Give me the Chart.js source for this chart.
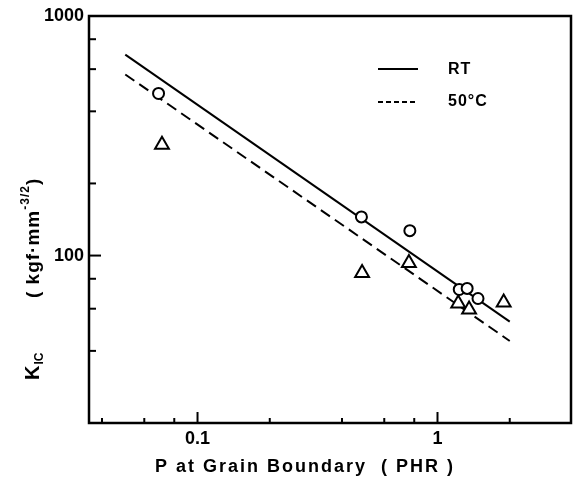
<!DOCTYPE html>
<html><head><meta charset="utf-8">
<script src="https://cdn.jsdelivr.net/npm/chart.js@4.4.1/dist/chart.umd.min.js"></script>
<style>html,body{margin:0;padding:0;background:#fff}#wrap{width:581px;height:480px}</style>
</head><body><div id="wrap"><canvas id="c" width="581" height="480"></canvas></div>
<script>
// ---- data ----
const xTickValues = [0.04, 0.06, 0.08, 0.1, 0.2, 0.4, 0.6, 0.8, 1, 2];
const xTickLabels = ['', '', '', '0.1', '', '', '', '', '1', ''];
const xMajor = [0.1, 1];
const yTickValues = [40, 60, 80, 100, 200, 400, 600, 800, 1000];
const yTickLabels = ['', '', '', '100', '', '', '', '', '1000'];
const yMajor = [100, 1000];

const rtPhr = [0.0688, 0.482, 0.767, 1.232, 1.329, 1.475];
const rtKic = [475, 145, 127, 72.2, 72.9, 66.2];
const hotPhr = [0.0711, 0.485, 0.760, 1.22, 1.354, 1.887];
const hotKic = [290, 84.5, 93.1, 63.1, 59.6, 63.7];

const rtFitPhr = [0.05, 2.0];
const rtFitKic = [690, 53];
const hotFitPhr = [0.05, 2.0];
const hotFitKic = [570, 44];

const legendLabels = ['RT', '50°C'];
const xTitle = 'P at Grain Boundary  ( PHR )';

const pts = (xs, ys) => xs.map((v, i) => ({x: v, y: ys[i]}));
const FONT = '"Liberation Sans", Arial, sans-serif';

const decor = {
  id: 'decor',
  afterDraw(chart) {
    const {ctx, chartArea: a, scales: {x, y}} = chart;
    ctx.save();
    ctx.strokeStyle = '#000';
    ctx.fillStyle = '#000';
    ctx.lineCap = 'butt';
    // frame
    ctx.lineWidth = 2.5;
    ctx.strokeRect(a.left, a.top, a.right - a.left, a.bottom - a.top);
    // inward ticks
    ctx.lineWidth = 2;
    xTickValues.forEach(v => {
      const px = x.getPixelForValue(v);
      const len = xMajor.includes(v) ? 11 : 5;
      ctx.beginPath(); ctx.moveTo(px, a.bottom); ctx.lineTo(px, a.bottom - len); ctx.stroke();
    });
    yTickValues.forEach(v => {
      const py = y.getPixelForValue(v);
      const len = yMajor.includes(v) ? 12 : 7;
      ctx.beginPath(); ctx.moveTo(a.left, py); ctx.lineTo(a.left + len, py); ctx.stroke();
    });
    // x title
    ctx.font = 'bold 18px ' + FONT;
    ctx.letterSpacing = '2px';
    ctx.textAlign = 'left';
    ctx.textBaseline = 'middle';
    ctx.fillText(xTitle, 155, 467);
    // y title (rotated)
    ctx.save();
    ctx.translate(39, 380);
    ctx.rotate(-Math.PI / 2);
    ctx.textBaseline = 'alphabetic';
    ctx.letterSpacing = '0px';
    ctx.font = 'bold 20px ' + FONT;
    ctx.fillText('K', 0, 0);
    const kw = ctx.measureText('K').width;
    ctx.font = 'bold 12px ' + FONT;
    ctx.fillText('IC', kw + 1, 4);
    ctx.letterSpacing = '1px';
    ctx.font = 'bold 19px ' + FONT;
    let ux = 82;
    const s1 = '( kgf·mm';
    ctx.fillText(s1, ux, 0);
    ux += ctx.measureText(s1).width;
    ctx.font = 'bold 12px ' + FONT;
    const s2 = '-3/2';
    ctx.fillText(s2, ux, -10);
    ux += ctx.measureText(s2).width;
    ctx.font = 'bold 19px ' + FONT;
    ctx.fillText(')', ux, 0);
    ctx.restore();
    // legend
    ctx.lineWidth = 2;
    ctx.setLineDash([]);
    ctx.beginPath(); ctx.moveTo(378, 69); ctx.lineTo(418, 69); ctx.stroke();
    ctx.setLineDash([5, 3]);
    ctx.beginPath(); ctx.moveTo(378, 102); ctx.lineTo(418, 102); ctx.stroke();
    ctx.setLineDash([]);
    ctx.font = 'bold 16px ' + FONT;
    ctx.letterSpacing = '1px';
    ctx.textBaseline = 'middle';
    ctx.fillText(legendLabels[0], 448, 70);
    ctx.fillText(legendLabels[1], 448, 102);
    ctx.restore();
  }
};

new Chart(document.getElementById('c'), {
  type: 'scatter',
  data: {
    datasets: [
      {label: 'RT', data: pts(rtPhr, rtKic), pointStyle: 'circle', pointRadius: 5.5,
       borderColor: '#000', backgroundColor: '#fff', borderWidth: 2, order: 1},
      {label: '50°C', data: pts(hotPhr, hotKic), pointStyle: 'triangle', pointRadius: 8,
       borderColor: '#000', backgroundColor: '#fff', borderWidth: 2, order: 1},
      {label: 'RT fit', data: pts(rtFitPhr, rtFitKic), showLine: true, pointRadius: 0,
       borderColor: '#000', borderWidth: 2, order: 2},
      {label: '50°C fit', data: pts(hotFitPhr, hotFitKic), showLine: true, pointRadius: 0,
       borderColor: '#000', borderWidth: 2, borderDash: [11, 6], order: 2}
    ]
  },
  options: {
    responsive: false,
    animation: false,
    devicePixelRatio: 1,
    layout: {padding: {left: 0, right: 4, top: 16, bottom: 0}},
    plugins: {legend: {display: false}, tooltip: {enabled: false}},
    scales: {
      x: {
        type: 'logarithmic', position: 'bottom', min: 0.0353, max: 3.6,
        grid: {display: false, drawTicks: false}, border: {display: false},
        ticks: {autoSkip: false, maxRotation: 0, padding: 5, color: '#000',
          font: {family: FONT, size: 18, weight: 'bold'},
          callback: (v, i) => xTickLabels[i]},
        afterBuildTicks: s => { s.ticks = xTickValues.map(v => ({value: v})); },
        afterFit: s => { s.height = 57; }
      },
      y: {
        type: 'logarithmic', position: 'left', min: 20, max: 1000,
        grid: {display: false, drawTicks: false}, border: {display: false},
        ticks: {autoSkip: false, padding: 5, color: '#000',
          font: {family: FONT, size: 18, weight: 'bold'},
          callback: (v, i) => yTickLabels[i]},
        afterBuildTicks: s => { s.ticks = yTickValues.map(v => ({value: v})); },
        afterFit: s => { s.width = 89; }
      }
    }
  },
  plugins: [decor]
});
</script></body></html>
